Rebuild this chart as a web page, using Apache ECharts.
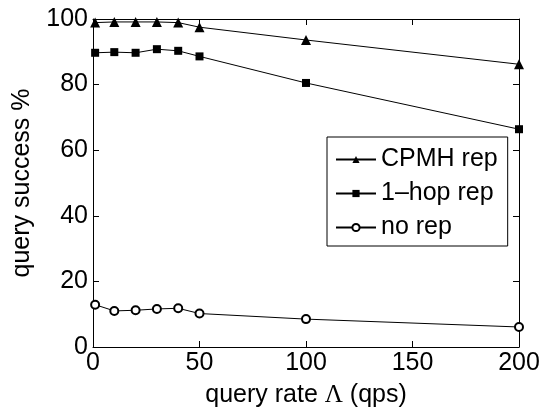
<!DOCTYPE html>
<html><head><meta charset="utf-8">
<script src="https://cdn.jsdelivr.net/npm/echarts@6/dist/echarts.min.js"></script>
<style>html,body{margin:0;padding:0;background:#fff}#c{width:547px;height:414px}</style>
</head><body><div id="c"></div>
<script>
const xValues = [1, 10, 20, 30, 40, 50, 100, 200];
const cpmhRep = [98.9, 99.1, 99.1, 99.1, 98.9, 97.5, 93.6, 86.2];
const oneHopRep = [89.7, 89.9, 89.7, 90.8, 90.3, 88.6, 80.5, 66.4];
const noRep = [12.9, 11.0, 11.2, 11.6, 11.8, 10.2, 8.5, 6.1];
const seriesNames = ['CPMH rep', '1\u2013hop rep', 'no rep'];
const xTicks = [0, 50, 100, 150, 200];
const yTicks = [0, 20, 40, 60, 80, 100];

const font = 'Liberation Sans, Arial, sans-serif';
const chart = echarts.init(document.getElementById('c'));
const pair = arr => xValues.map((x, i) => [x, arr[i]]);
const baseAxis = {
  axisLine: {show: true, onZero: false, lineStyle: {color: '#000', width: 1}},
  axisTick: {show: true, inside: true, length: 6, lineStyle: {color: '#000'}},
  splitLine: {show: false}
};
chart.setOption({
  animation: false,
  backgroundColor: '#fff',
  grid: {left: 93, right: 28, top: 19, bottom: 67},
  legend: {
    left: 327, top: 137,
    orient: 'vertical',
    itemWidth: 40, itemHeight: 9, itemGap: 9,
    padding: [10, 10, 6, 8],
    borderColor: '#000', borderWidth: 1, backgroundColor: '#fff',
    textStyle: {fontFamily: font, fontSize: 25, color: '#000', padding: [0, 0, 0, 0]},
    data: seriesNames
  },
  xAxis: [
    Object.assign({}, baseAxis, {
      type: 'value', min: 0, max: 200, interval: 50,
      position: 'bottom',
      name: 'query rate {s|\u039B} (qps)', nameLocation: 'middle', nameGap: 36,
      nameTextStyle: {fontFamily: font, fontSize: 25, color: '#000',
        rich: {s: {fontFamily: 'Liberation Serif, Times New Roman, serif', fontSize: 25, color: '#000'}}},
      axisLabel: {fontFamily: font, fontSize: 25, color: '#000', margin: 4}
    }),
    Object.assign({}, baseAxis, {
      type: 'value', min: 0, max: 200, interval: 50, position: 'top',
      axisLabel: {show: false}
    })
  ],
  yAxis: [
    Object.assign({}, baseAxis, {
      type: 'value', min: 0, max: 100, interval: 20, position: 'left',
      name: 'query success %', nameLocation: 'middle', nameGap: 58,
      nameTextStyle: {fontFamily: font, fontSize: 25, color: '#000'},
      axisLabel: {fontFamily: font, fontSize: 25, color: '#000', margin: 5}
    }),
    Object.assign({}, baseAxis, {
      type: 'value', min: 0, max: 100, interval: 20, position: 'right',
      axisLabel: {show: false}
    })
  ],
  series: [
    {name: seriesNames[0], type: 'line', data: pair(cpmhRep), symbol: 'triangle', symbolSize: 10,
     clip: false, color: '#000', lineStyle: {color: '#000', width: 1},
     itemStyle: {color: '#000'}},
    {name: seriesNames[1], type: 'line', data: pair(oneHopRep), symbol: 'rect', symbolSize: 8,
     clip: false, color: '#000', lineStyle: {color: '#000', width: 1},
     itemStyle: {color: '#000'}},
    {name: seriesNames[2], type: 'line', data: pair(noRep), symbol: 'emptyCircle', symbolSize: 8,
     clip: false, color: '#000', lineStyle: {color: '#000', width: 1},
     itemStyle: {color: '#000', borderColor: '#000', borderWidth: 1}}
  ]
});
</script></body></html>
